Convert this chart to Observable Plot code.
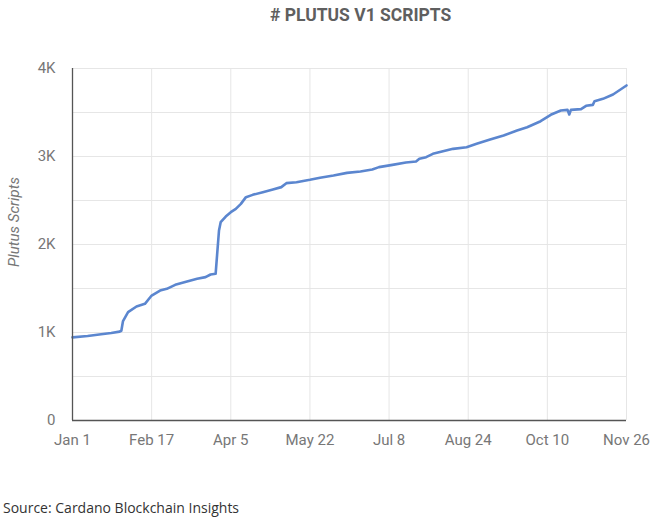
<!DOCTYPE html>
<html>
<head>
<meta charset="utf-8">
<script src="https://cdn.jsdelivr.net/npm/d3@7"></script>
<script src="https://cdn.jsdelivr.net/npm/@observablehq/plot@0.6"></script>
<style>
  html, body { margin: 0; padding: 0; background: #fff; }
  body { width: 655px; height: 520px; position: relative; overflow: hidden; font-family: Roboto, sans-serif; }
  #title { position: absolute; left: 0; top: 5px; width: 655px; padding-left: 270px; box-sizing: border-box;
           font: bold 17.5px Roboto, sans-serif; color: #5f5f5f; white-space: nowrap; }
  #chart { position: absolute; left: 0; top: 40px; }
  #ylab { position: absolute; left: 14px; top: 222px; transform: translate(-50%, -50%) rotate(-90deg);
          font: italic 15px Roboto, sans-serif; color: #777; white-space: nowrap; }
  #source { position: absolute; left: 3px; top: 498px; font: 14px "Open Sans", sans-serif; color: #333; white-space: nowrap; }
</style>
</head>
<body>
<div id="title"># PLUTUS V1 SCRIPTS</div>
<div id="chart"></div>
<div id="ylab">Plutus Scripts</div>
<div id="source">Source: Cardano Blockchain Insights</div>
<script>
const dates = [
  "2022-01-01","2022-01-10","2022-01-18","2022-01-24","2022-01-29","2022-01-30","2022-01-31",
  "2022-02-03","2022-02-08","2022-02-13","2022-02-17","2022-02-22","2022-02-26","2022-03-03",
  "2022-03-10","2022-03-16","2022-03-21","2022-03-24","2022-03-27","2022-03-29","2022-03-30",
  "2022-04-02","2022-04-05","2022-04-08","2022-04-11","2022-04-14","2022-04-18","2022-04-24",
  "2022-04-30","2022-05-05","2022-05-08","2022-05-14","2022-05-22","2022-05-28","2022-06-05",
  "2022-06-13","2022-06-21","2022-06-28","2022-07-02","2022-07-10","2022-07-18","2022-07-24",
  "2022-07-26","2022-07-30","2022-08-03","2022-08-09","2022-08-15","2022-08-23","2022-08-29",
  "2022-09-06","2022-09-14","2022-09-22","2022-09-28","2022-10-06","2022-10-12","2022-10-18",
  "2022-10-22","2022-10-23","2022-10-24","2022-10-30","2022-11-02","2022-11-06","2022-11-07",
  "2022-11-12","2022-11-18","2022-11-26"
];
const scripts = [
  945, 960, 980, 995, 1010, 1020, 1130,
  1231, 1295, 1326, 1420, 1477, 1496, 1542,
  1580, 1610, 1629, 1659, 1667, 2159, 2254,
  2318, 2367, 2405, 2462, 2538, 2564, 2595,
  2625, 2652, 2697, 2708, 2735, 2758, 2784,
  2814, 2830, 2852, 2879, 2905, 2932, 2943,
  2974, 2992, 3030, 3060, 3087, 3106, 3144,
  3193, 3239, 3295, 3333, 3401, 3474, 3523,
  3530, 3477, 3530, 3538, 3576, 3587, 3628,
  3655, 3705, 3807
];
const xTickDates = ["2022-01-01","2022-02-17","2022-04-05","2022-05-22","2022-07-08","2022-08-24","2022-10-10","2022-11-26"];
const xTickLabels = ["Jan 1","Feb 17","Apr 5","May 22","Jul 8","Aug 24","Oct 10","Nov 26"];
const yTicks = [0, 1000, 2000, 3000, 4000];
const yTickLabels = ["0", "1K", "2K", "3K", "4K"];
const yGrid = [500, 1000, 1500, 2000, 2500, 3000, 3500, 4000];

const parse = d3.utcParse("%Y-%m-%d");
const data = dates.map((d, i) => ({date: parse(d), value: scripts[i]}));
const xTicks = xTickDates.map(parse);
const xLabelMap = new Map(xTicks.map((d, i) => [+d, xTickLabels[i]]));
const yLabelMap = new Map(yTicks.map((v, i) => [v, yTickLabels[i]]));

const chart = Plot.plot({
  width: 655,
  height: 425,
  marginLeft: 72,
  marginRight: 29,
  marginTop: 28,
  marginBottom: 45,
  style: {fontFamily: "Roboto, sans-serif", fontSize: "15px", color: "#777", background: "#fff"},
  x: {type: "utc", domain: [parse("2022-01-01"), parse("2022-11-26")]},
  y: {domain: [0, 4000]},
  marks: [
    Plot.ruleY(yGrid, {stroke: "#e6e6e6", strokeWidth: 1}),
    Plot.ruleX(xTicks.slice(1), {stroke: "#e6e6e6", strokeWidth: 1}),
    Plot.axisX({ticks: xTicks, tickSize: 0, tickPadding: 14, tickFormat: d => xLabelMap.get(+d), label: null, fill: "#777"}),
    Plot.axisY({ticks: yTicks, tickSize: 0, tickPadding: 17, tickFormat: v => yLabelMap.get(v), label: null, fill: "#777"}),
    Plot.line(data, {x: "date", y: "value", stroke: "#5b86cf", strokeWidth: 2.6, curve: "linear"}),
    Plot.ruleY([0], {stroke: "#555", strokeWidth: 1.3}),
    Plot.ruleX([parse("2022-01-01")], {stroke: "#555", strokeWidth: 1.3})
  ]
});
document.getElementById("chart").appendChild(chart);
</script>
</body>
</html>
